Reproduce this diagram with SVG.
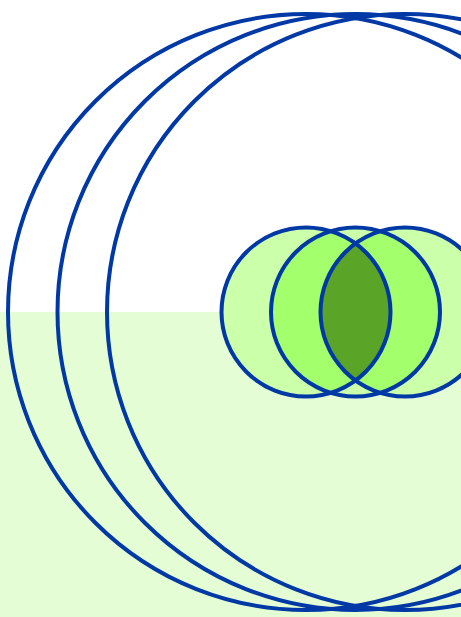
<svg xmlns="http://www.w3.org/2000/svg" width="461" height="617" viewBox="0 0 461 617">
<style>
.big{fill:none;stroke:#0039a6;stroke-width:4}
.line{fill:none;stroke:#0039a6;stroke-width:4}
</style>
<defs>
<clipPath id="cL"><circle cx="306" cy="312" r="84.5"/></clipPath>
<clipPath id="cR"><circle cx="405" cy="312" r="84.5"/></clipPath>
</defs>
<rect x="0" y="0" width="461" height="617" fill="#ffffff"/>
<rect x="0" y="312" width="461" height="305" fill="#e5fdd4"/>
<g id="big-circles">
<circle class="big" cx="306" cy="312" r="298"/>
<circle class="big" cx="355.5" cy="312" r="298"/>
<circle class="big" cx="405" cy="312" r="298"/>
</g>
<g id="venn">
<circle cx="306" cy="312" r="84.5" fill="#ccffaa"/>
<circle cx="355.5" cy="312" r="84.5" fill="#ccffaa"/>
<circle cx="405" cy="312" r="84.5" fill="#ccffaa"/>
<circle cx="355.5" cy="312" r="84.5" fill="#a3ff6b" clip-path="url(#cL)"/>
<circle cx="355.5" cy="312" r="84.5" fill="#a3ff6b" clip-path="url(#cR)"/>
<circle cx="306" cy="312" r="84.5" fill="#5aa428" clip-path="url(#cR)"/>
<circle class="line" cx="306" cy="312" r="84.5"/>
<circle class="line" cx="355.5" cy="312" r="84.5"/>
<circle class="line" cx="405" cy="312" r="84.5"/>
</g>
</svg>
